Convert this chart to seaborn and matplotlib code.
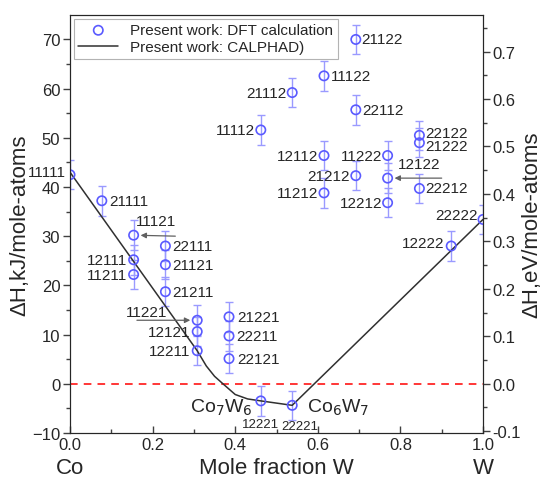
import numpy as np
import pandas as pd
import matplotlib
matplotlib.use("Agg")
import matplotlib.pyplot as plt
import seaborn as sns

# configurations du mu-phase (1 = Co, 2 = W sur chaque site)
configs = ["11111", "21111", "11121", "12111", "11211", "22111", "21121", "21211",
           "11221", "12121", "12211", "21221", "22211", "22121", "12221", "22221",
           "11112", "21112", "11122", "21122", "22112", "12112", "21212", "11212",
           "11222", "12122", "12212", "22122", "21222", "22212", "12222", "22222"]
x_w = [0.000, 0.077, 0.154, 0.154, 0.154, 0.231, 0.231, 0.231,
       0.308, 0.308, 0.308, 0.385, 0.385, 0.385, 0.462, 0.538,
       0.462, 0.538, 0.615, 0.692, 0.692, 0.615, 0.692, 0.615,
       0.769, 0.769, 0.769, 0.846, 0.846, 0.846, 0.923, 1.000]
dH_dft = [42.5, 37.2, 30.2, 25.2, 22.2, 28.0, 24.2, 18.7,
          12.9, 10.6, 6.7, 13.6, 9.7, 5.1, -3.5, -4.4,
          51.6, 59.2, 62.6, 70.0, 55.7, 46.4, 42.3, 38.8,
          46.4, 41.8, 36.8, 50.5, 49.0, 39.7, 28.0, 33.4]
dH_err = [3.0] * len(configs)

# courbe CALPHAD
x_calphad = [0.0, 0.308, 0.33, 0.35, 0.37, 0.40, 0.43, 0.462, 0.538, 1.0]
dH_calphad = [43.0, 6.7, 3.6, 1.5, 0.0, -2.2, -3.1, -3.5, -4.4, 33.4]

df = pd.DataFrame({"config": configs, "x": x_w, "dH": dH_dft, "err": dH_err})
df_cal = pd.DataFrame({"x": x_calphad, "dH": dH_calphad})

sns.set_style("ticks")
plt.rcParams['font.family'] = ['Liberation Sans', 'DejaVu Sans']

fig = plt.figure(figsize=(5.47, 4.81), dpi=100)
ax = fig.add_axes([0.128, 0.098, 0.755, 0.869])

blue = "#5a5aff"
ax.axhline(0, color="red", ls=(0, (5, 4)), lw=1.1, zorder=1)
ax.errorbar(df["x"], df["dH"], yerr=df["err"], fmt="none", ecolor="#9a9aff",
            elinewidth=1, capsize=3, capthick=1, zorder=2)
sns.lineplot(data=df_cal, x="x", y="dH", color="#303030", lw=1.1, ax=ax,
             label="Present work: CALPHAD)", sort=False, zorder=3)
sns.scatterplot(data=df, x="x", y="dH", marker="o", s=45, facecolors="none",
                edgecolor=blue, linewidth=1.2, ax=ax, zorder=4,
                label="Present work: DFT calculation")

# position des étiquettes (décalage en points)
offsets = {
    "11111": (-3, 2, "right"), "21111": (5, 0, "left"), "12111": (-5, 0, "right"),
    "11211": (-5, 0, "right"), "22111": (5, 0, "left"), "21121": (5, 0, "left"),
    "21211": (5, 0, "left"), "12121": (-5, 0, "right"), "12211": (-5, 0, "right"),
    "21221": (6, 0, "left"), "22211": (5, 0, "left"), "22121": (6, 0, "left"),
    "11112": (-4, 0, "right"), "21112": (-4, 0, "right"), "11122": (5, 0, "left"),
    "21122": (4, 0, "left"), "22112": (5, 0, "left"), "12112": (-4, 0, "right"),
    "21212": (-4, 0, "right"), "11212": (-4, 0, "right"), "11222": (-4, 0, "right"),
    "12212": (-4, 0, "right"), "22122": (4, 2, "left"), "21222": (4, -2, "left"),
    "22212": (4, 0, "left"), "12222": (-5, 2, "right"), "22222": (-4, 3, "right"),
}
for _, r in df.iterrows():
    if r["config"] in offsets:
        dx, dy, ha = offsets[r["config"]]
        ax.annotate(r["config"], (r["x"], r["dH"]), xytext=(dx, dy),
                    textcoords="offset points", ha=ha, va="center",
                    fontsize=11, annotation_clip=False)

# les deux composés sous la ligne zéro (étiquettes plus petites)
ax.text(0.462, -8.1, "12221", fontsize=9.5, ha="center", va="center")
ax.text(0.556, -8.6, "22221", fontsize=9.5, ha="center", va="center")
ax.text(0.366, -4.7, "Co$_7$W$_6$", fontsize=14, ha="center", va="center")
ax.text(0.573, -4.7, "Co$_6$W$_7$", fontsize=14, ha="left", va="center")

# étiquettes avec flèches
arrow = dict(arrowstyle="-|>", color="#606060", lw=0.9, mutation_scale=8,
             shrinkA=0, shrinkB=5)
arrow_start = {"11121": (0.255, 30.0), "11221": (0.162, 12.9), "12122": (0.90, 41.8)}
for name, (xt, yt) in arrow_start.items():
    row = df[df["config"] == name].iloc[0]
    ax.annotate("", (row["x"], row["dH"]), xytext=(xt, yt), arrowprops=arrow)
tx = {"11121": (0.208, 33.0), "11221": (0.185, 14.6), "12122": (0.845, 44.6)}
for name, (xt, yt) in tx.items():
    ax.text(xt, yt, name, fontsize=11, ha="center", va="center")

ax.set_xlim(0, 1)
ax.set_ylim(-10, 75)
ax.set_xticks(np.arange(0, 1.01, 0.2))
ax.set_xticks(np.arange(0, 1.01, 0.1), minor=True)
ax.set_yticks(np.arange(-10, 71, 10))
ax.set_yticks(np.arange(-10, 75, 5), minor=True)
ax.set_xticklabels(["0.0", "0.2", "0.4", "0.6", "0.8", "1.0"])
ax.tick_params(axis="y", which="both", labelsize=12, direction="out", width=1,
               color="#404040", pad=2)
ax.tick_params(axis="x", which="both", labelsize=12, direction="in", width=1,
               color="#404040", pad=3)
ax.tick_params(which="major", length=5)
ax.tick_params(which="minor", length=3)
ax.set_xlabel("")
ax.set_ylabel("ΔH,kJ/mole-atoms", fontsize=16, labelpad=1)
for s in ax.spines.values():
    s.set_color("#303030")

ax.text(0.5, -0.097, "Mole fraction W", transform=ax.transAxes, fontsize=16,
        ha="center", va="baseline")
ax.text(0.0, -0.097, "Co", transform=ax.transAxes, fontsize=16, ha="center", va="baseline")
ax.text(1.0, -0.097, "W", transform=ax.transAxes, fontsize=16, ha="center", va="baseline")

ax2 = ax.twinx()
ax2.set_ylim(-10 / 96.485, 75 / 96.485)
ax2.set_yticks(np.arange(-0.1, 0.71, 0.1))
ax2.set_yticks(np.arange(-0.1, 0.76, 0.05), minor=True)
ax2.set_yticklabels(["-0.1", "0.0", "0.1", "0.2", "0.3", "0.4", "0.5", "0.6", "0.7"])
ax2.tick_params(which="both", labelsize=12, direction="out", width=1,
                color="#404040", pad=2)
ax2.tick_params(which="major", length=5)
ax2.tick_params(which="minor", length=3)
ax2.set_ylabel("ΔH,eV/mole-atoms", fontsize=16, labelpad=0)

h, l = ax.get_legend_handles_labels()
order = [l.index("Present work: DFT calculation"), l.index("Present work: CALPHAD)")]
leg = ax.legend([h[i] for i in order], [l[i] for i in order], loc="upper left",
                fontsize=11, frameon=True, fancybox=False, edgecolor="#a0a0a0",
                borderaxespad=0.25, handlelength=2.6, borderpad=0.3, labelspacing=0.2)
leg.get_frame().set_linewidth(0.8)

fig.savefig("out.png", dpi=100)
